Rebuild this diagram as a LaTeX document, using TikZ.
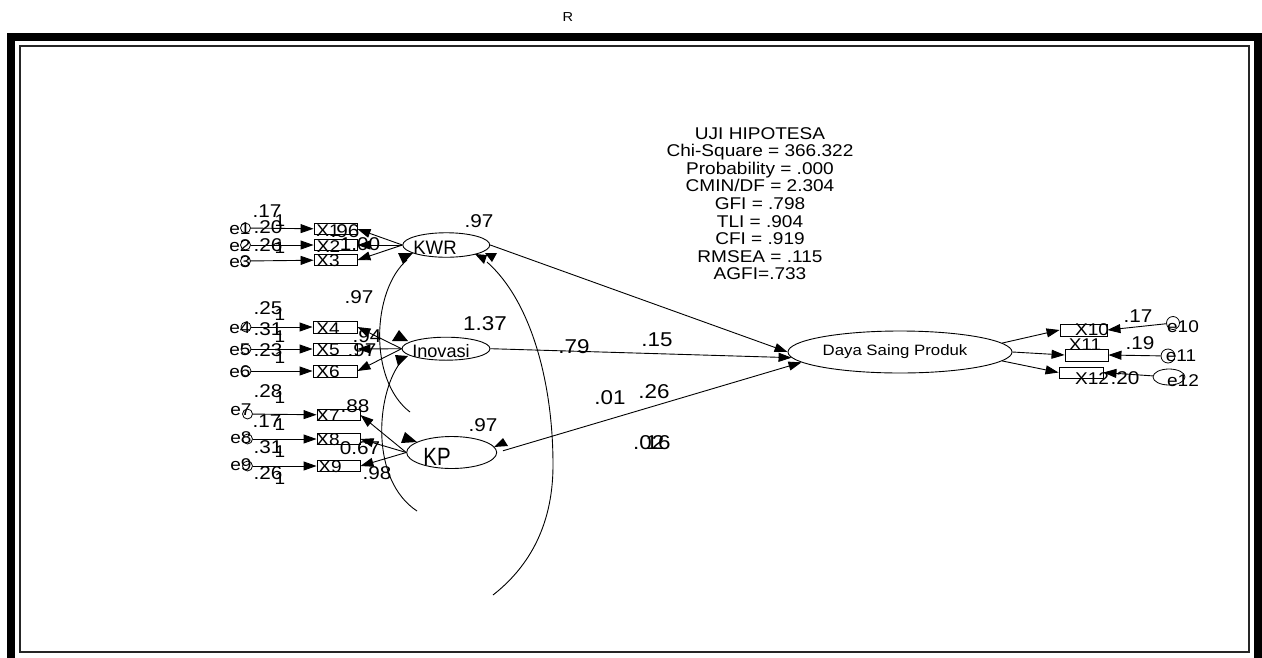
\documentclass[tikz,border=0pt]{standalone}
\usepackage{fontspec}
\setmainfont{Liberation Sans}[FakeStretch=1.12]
\usetikzlibrary{arrows.meta,shapes.geometric,calc}
\begin{document}
\begin{tikzpicture}[x=1pt,y=-1pt,
  every node/.style={inner sep=0pt},
  ln/.style={line width=0.9pt},
  tip/.style={-{Triangle[length=13pt,width=9pt]}},
  obs/.style={draw, line width=0.9pt, rectangle, minimum width=43pt, minimum height=11pt},
  lat/.style={draw, line width=0.9pt, ellipse},
  err/.style={draw, line width=0.8pt, circle, minimum size=10pt},
  val/.style={font=\fontsize{18.5}{18.5}\selectfont},
  bval/.style={font=\fontsize{20}{20}\selectfont},
  txt/.style={font=\fontsize{17}{17}\selectfont},
  stat/.style={font=\fontsize{17}{17}\selectfont},
]
\useasboundingbox (0,0) rectangle (1262,657);
\clip (0,0) rectangle (1262,657);
% frame
\draw[line width=8pt] (11,37) rectangle (1258,665);
\draw[line width=2pt, black!85] (19.5,45.5) rectangle (1249,652);
\node[font=\fontsize{13}{13}\selectfont] (rr) at (568,17) {R};

% statistics
\foreach \t [count=\i from 0] in {UJI HIPOTESA, Chi-Square = 366.322, Probability = .000, CMIN/DF = 2.304, GFI = .798, TLI = .904, CFI = .919, RMSEA = .115, AGFI=.733}
  \node[stat, anchor=base] (s\i) at (760,{139+17.6*\i}) {\t};

% ---------- KWR group
\node[err] (e1) at (245.5,228) {};
\node[err] (e2) at (245.5,245) {};
\node[err] (e3) at (245.5,261) {};
\node[txt] (te1) at (240,229) {e1};
\node[txt] (te2) at (240,246) {e2};
\node[txt] (te3) at (240,262) {e3};
\node[obs] (x1) at (335.5,229) {};
\node[obs] (x2) at (335.5,245) {};
\node[obs] (x3) at (335.5,260) {};
\node[txt] (tx1) at (328,231) {X1};
\node[txt] (tx2) at (328.5,246.5) {X2};
\node[txt] (tx3) at (328,261) {X3};
\node[val] (v17) at (267,211) {.17};
\node[val] (v20) at (268,227) {.20};
\node[val] (v26) at (268,245) {.26};
\node[txt] (o1) at (280,221) {1};
\node[txt] (o2) at (280,248) {1};
\node[val] (l96) at (345,231) {.96};
\node[val] (l100) at (360,244) {1.00};
\node[lat, minimum width=87pt, minimum height=24.5pt] (kwr) at (446.3,245) {};
\node[font=\fontsize{19.5}{19.5}\selectfont, xscale=0.85] (tkwr) at (435,248) {KWR};
\node[val] (vk) at (479,221) {.97};

% ---------- Inovasi group
\node[err] (e4) at (246,327) {};
\node[err] (e5) at (246,349) {};
\node[err] (e6) at (246,371) {};
\node[txt] (te4) at (240,328) {e4};
\node[txt] (te5) at (240,350) {e5};
\node[txt] (te6) at (240,372) {e6};
\node[obs, minimum height=12pt, minimum width=44pt] (x4) at (335,327) {};
\node[obs, minimum height=12pt, minimum width=44pt] (x5) at (335,349) {};
\node[obs, minimum height=12pt, minimum width=44pt] (x6) at (335,371) {};
\node[txt] (tx4) at (328,329) {X4};
\node[txt] (tx5) at (328,350) {X5};
\node[txt] (tx6) at (328,372) {X6};
\node[val] (v25) at (268,308) {.25};
\node[val] (v31) at (268,329) {.31};
\node[val] (v23) at (268,350) {.23};
\node[txt] (o3) at (280,315) {1};
\node[txt] (o4) at (280,337) {1};
\node[txt] (o5) at (280,358) {1};
\node[val] (l94) at (367,336) {.94};
\node[val] (l97) at (362,350) {.97};
\node[val] (v97b) at (359,297) {.97};
\node[lat, minimum width=88pt, minimum height=23pt] (inov) at (446,348.7) {};
\node[font=\fontsize{18}{18}\selectfont, xscale=0.9] (tinov) at (441,351) {Inovasi};
\node[bval] (v137) at (485,324) {1.37};

% ---------- KP group
\node[err] (e7) at (247.5,414) {};
\node[err] (e8) at (247.5,439) {};
\node[err] (e9) at (247.5,466) {};
\node[txt] (te7) at (241,410) {e7};
\node[txt] (te8) at (241,438) {e8};
\node[txt] (te9) at (241,465) {e9};
\node[obs] (x7) at (338.5,415) {};
\node[obs] (x8) at (338.5,439) {};
\node[obs] (x9) at (338.5,466) {};
\node[txt] (tx7) at (328,416) {X7};
\node[txt] (tx8) at (328,440) {X8};
\node[txt] (tx9) at (330,467) {X9};
\node[val] (v28) at (268,391) {.28};
\node[val] (v17b) at (267,421) {.17};
\node[val] (v31b) at (268,447) {.31};
\node[val] (v26b) at (268,473) {.26};
\node[txt] (o6) at (280,398) {1};
\node[txt] (o7) at (280,425) {1};
\node[txt] (o8) at (280,452) {1};
\node[txt] (o9) at (280,479) {1};
\node[val] (l88) at (355,406) {.88};
\node[val] (l67) at (360,448) {0.67};
\node[val] (l98) at (377,473) {.98};
\node[lat, minimum width=90pt, minimum height=32pt] (kp) at (451.7,452.5) {};
\node[font=\fontsize{25}{25}\selectfont, xscale=0.73] (tkp) at (437,457) {KP};
\node[val] (vkp) at (483,425) {.97};

% ---------- Daya Saing Produk
\node[lat, minimum width=224pt, minimum height=42pt] (dsp) at (900,352) {};
\node[font=\fontsize{15}{15}\selectfont] (tdsp) at (895,352) {Daya Saing Produk};

% ---------- right indicators
\node[obs, minimum width=47pt, minimum height=12pt] (x10) at (1083.5,330) {};
\node[obs, minimum width=43pt, minimum height=12pt] (x11) at (1086.5,355) {};
\node[obs, minimum width=44pt, minimum height=11pt] (x12) at (1081,372.5) {};
\node[txt] (tx10) at (1092,330) {X10};
\node[txt] (tx11) at (1085,345) {X11};
\node[txt] (tx12) at (1092,379) {X12};
\node[err, minimum size=13pt] (e10) at (1173,323) {};
\node[err, minimum size=14pt] (e11) at (1168,356) {};
\node[draw, line width=0.8pt, ellipse, minimum width=32pt, minimum height=16pt] (e12) at (1169,377) {};
\node[txt] (te10) at (1183,327) {e10};
\node[txt] (te11) at (1181,356) {e11};
\node[txt] (te12) at (1183,381) {e12};
\node[val] (v17c) at (1138,316) {.17};
\node[val] (v19) at (1140,343) {.19};
\node[val] (v20c) at (1125,378) {.20};

% ---------- middle labels
\node[bval] (m79) at (574,347) {.79};
\node[bval] (m15) at (657,340) {.15};
\node[bval] (m01) at (610,398) {.01};
\node[bval] (m26) at (654,392) {.26};
\node[bval, anchor=west] (m02) at (633,443) {.02};
\node[bval, anchor=west] (m16) at (645.5,443) {16};

% ---------- paths
\foreach \a/\b in {e1/x1,e2/x2,e3/x3,e4/x4,e5/x5,e6/x6,e7/x7,e8/x8,e9/x9}
  \draw[ln,tip] (\a) -- (\b);
\foreach \b in {x1,x2,x3} \draw[ln,tip] (kwr.west) -- (\b.east);
\foreach \b in {x4,x5,x6} \draw[ln,tip] (inov.west) -- (\b.east);
\foreach \b in {x7,x8,x9} \draw[ln,tip] (kp.west) -- (\b.east);
\draw[ln,tip] (kwr.east) -- (dsp.west);
\draw[ln,tip] (inov.east) -- (dsp.183);
\draw[ln,tip,shorten <=6pt] (kp.east) -- (dsp.186);
\draw[ln,tip] (dsp.5) -- (x10.west);
\draw[ln,tip] (dsp.east) -- (x11.west);
\draw[ln,tip] (dsp.355.5) -- (x12.west);
\draw[ln,tip] (e10) -- (x10.east);
\draw[ln,tip] (e11) -- (x11.east);
\draw[ln,tip] (e12) -- (x12.east);

% ---------- covariance arcs
\draw[ln] (407,260) .. controls (372,290) and (368,380) .. (410,412);
\draw[ln] (400,363) .. controls (376,395) and (370,480) .. (417,511);
\draw[ln] (487,262) .. controls (530,300) and (553,380) .. (553,465)
                    .. controls (553,530) and (525,570) .. (493,595);
% arc heads
\fill (398,253) -- (413,253) -- (403,264) -- cycle;
\fill (475,254) -- (487,255) -- (484,264) -- cycle;
\fill (485,253) -- (497,253) -- (492,262) -- cycle;
\fill (399,330) -- (392,341) -- (408,341) -- cycle;
\fill (395,355) -- (408,356) -- (398,366) -- cycle;
\fill (405,432) -- (401,443) -- (417,442) -- cycle;
\fill (494,447) -- (508,446) -- (503,438) -- cycle;
\end{tikzpicture}
\end{document}
